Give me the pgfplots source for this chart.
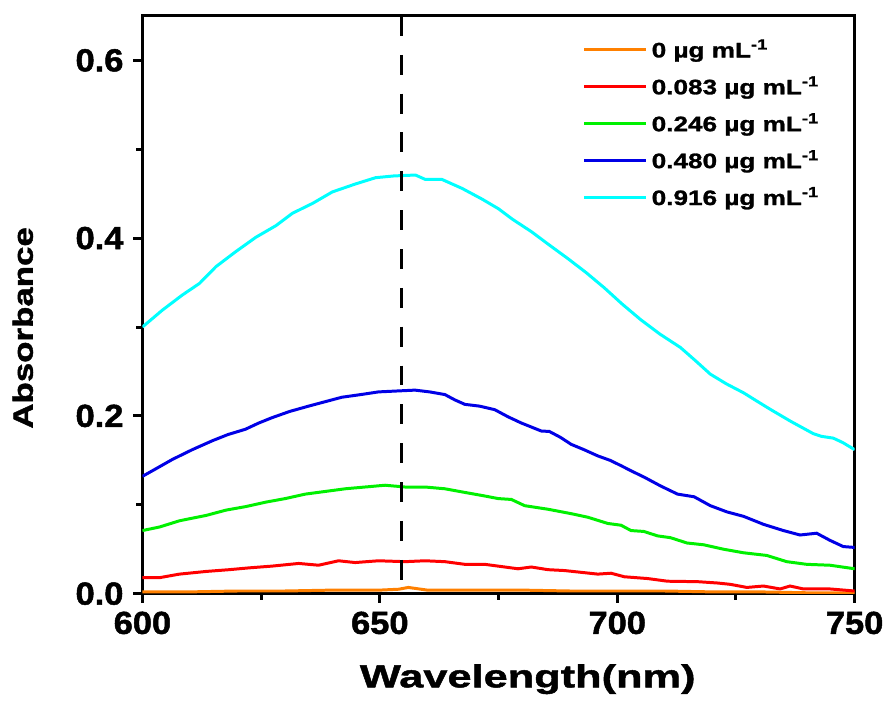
\documentclass[border=0pt]{standalone}
\usepackage{pgfplots}
\pgfplotsset{compat=1.18}
\usepackage{fontspec}
\setmainfont{Liberation Sans}
% heavy, widened faces for the different text roles
\newfontfamily\tickf{Liberation Sans}[BoldFeatures={FakeStretch=1.08,FakeBold=1.5}]
\newfontfamily\xlabf{Liberation Sans}[BoldFeatures={FakeStretch=1.36,FakeBold=1.5}]
\newfontfamily\ylabf{Liberation Sans}[BoldFeatures={FakeStretch=1.25,FakeBold=1.5}]
\newfontfamily\legf{Liberation Sans}[BoldFeatures={FakeStretch=1.25,FakeBold=1.3}]

\definecolor{cOrange}{RGB}{255,128,0}
\definecolor{cRed}{RGB}{255,0,0}
\definecolor{cGreen}{RGB}{0,240,0}
\definecolor{cBlue}{RGB}{0,0,230}
\definecolor{cCyan}{RGB}{0,255,255}

\begin{document}
\begin{tikzpicture}
\begin{axis}[
  scale only axis,
  width=357.5pt, height=290pt,
  xmin=600, xmax=750, ymin=0, ymax=0.65,
  xtick={600,650,700,750},
  ytick={0,0.2,0.4,0.6},
  minor xtick={625,675,725},
  minor ytick={0.1,0.3,0.5},
  xtick pos=bottom, ytick pos=left,
  tick align=outside,
  major tick length=4.5pt, minor tick length=3pt,
  every tick/.style={black, line width=1.5pt},
  axis line style={line width=1.5pt},
  /pgf/number format/assume math mode=true,
  yticklabel style={/pgf/number format/fixed, /pgf/number format/fixed zerofill,
    /pgf/number format/precision=1, xshift=-1.5pt},
  ticklabel style={font=\tickf\bfseries\fontsize{16}{16}\selectfont},
  xticklabel style={yshift=-1pt},
  xlabel={Wavelength(nm)}, ylabel={Absorbance},
  xlabel style={font=\xlabf\bfseries\fontsize{16}{16}\selectfont,
    at={(axis description cs:0.541,-0.148)}, anchor=center},
  ylabel style={font=\ylabf\bfseries\fontsize{14}{14}\selectfont,
    at={(axis description cs:-0.168,0.46)}, anchor=center},
  legend cell align=left,
  legend image code/.code={\draw[#1] (0pt,0pt) -- (31pt,0pt);},
  legend style={at={(axis description cs:0.618,0.967)}, anchor=north west, draw=none, fill=none,
    font=\legf\bfseries\fontsize{10.5}{10.5}\selectfont, row sep=4pt, inner sep=0pt},
  every axis plot/.append style={line width=1.5pt},
]
\addplot[cOrange] coordinates {
(600,0.002) (610,0.002) (620,0.003) (630,0.003) (640,0.004) (650,0.004) (654,0.005) (656,0.007)
(660,0.004) (670,0.004) (680,0.004) (690,0.003) (700,0.003) (710,0.003) (720,0.002) (730,0.002)
(740,0.001) (750,0.001)};
\addlegendentry{0 µg mL\textsuperscript{-1}}

\addplot[cRed] coordinates {
(600,0.018) (603.6,0.018) (607.8,0.022) (613.4,0.025) (618.3,0.027) (622.4,0.029) (627.3,0.031)
(632.9,0.034) (637.1,0.032) (641.3,0.037) (644.8,0.035) (649.7,0.037) (655.3,0.036) (659.5,0.037)
(663.7,0.036) (667.9,0.033) (672.1,0.033) (674.9,0.031) (679.1,0.028) (681.9,0.030) (685.4,0.027)
(688.9,0.026) (692.4,0.024) (695.9,0.022) (698.7,0.023) (701.5,0.019) (706.4,0.017) (710.6,0.014)
(716.9,0.0135) (721.1,0.012) (723.8,0.0105) (727.3,0.007) (730.8,0.0086) (734.3,0.0053)
(736.4,0.0086) (739.2,0.0053) (744.8,0.0053) (750,0.003)};
\addlegendentry{0.083 µg mL\textsuperscript{-1}}

\addplot[cGreen] coordinates {
(600,0.071) (603.6,0.075) (607.8,0.082) (613.4,0.088) (617.6,0.094) (621.8,0.098) (626,0.103)
(630.1,0.107) (634.3,0.112) (638.5,0.115) (642.7,0.118) (646.9,0.120) (651.1,0.122) (655.3,0.120)
(659.5,0.120) (663.7,0.118) (667.8,0.114) (672,0.110) (674.9,0.107) (677.7,0.106) (680.5,0.099)
(685.4,0.095) (690.3,0.090) (693.8,0.086) (698,0.079) (700.8,0.077) (702.9,0.071) (705.6,0.070)
(708.5,0.065) (711.2,0.063) (714.7,0.057) (718.2,0.055) (722.4,0.050) (726.6,0.046) (731.5,0.043)
(735.7,0.036) (739.9,0.033) (744.8,0.032) (750,0.028)};
\addlegendentry{0.246 µg mL\textsuperscript{-1}}

\addplot[cBlue] coordinates {
(600,0.132) (603,0.141) (606.3,0.151) (610.5,0.162) (614.7,0.172) (618,0.179) (621.7,0.185)
(624.5,0.192) (627.3,0.198) (631,0.205) (635,0.211) (638.5,0.216) (642,0.221) (646,0.224)
(649.7,0.227) (653.5,0.228) (657.4,0.229) (660.5,0.227) (663.7,0.224) (665.8,0.218) (667.9,0.213)
(671,0.211) (674.2,0.207) (677,0.199) (679.8,0.192) (684,0.183) (685.7,0.1825) (688,0.176)
(690.3,0.168) (693,0.162) (695.9,0.155) (698.5,0.150) (700.8,0.144) (703,0.138) (705.7,0.131)
(709.2,0.121) (712.7,0.112) (716.2,0.109) (719.6,0.099) (723.1,0.092) (726.6,0.087) (730.8,0.078)
(735,0.071) (738.5,0.066) (742,0.068) (744.8,0.060) (747.6,0.053) (750,0.052)};
\addlegendentry{0.480 µg mL\textsuperscript{-1}}

\addplot[cCyan] coordinates {
(600,0.300) (604.2,0.319) (608.4,0.336) (612,0.349) (615.5,0.368) (619.7,0.385) (623.9,0.401)
(628.1,0.414) (631.6,0.428) (635.8,0.439) (640,0.452) (644.9,0.461) (649.1,0.468) (653,0.470)
(657.5,0.471) (659.6,0.466) (663.1,0.466) (667.3,0.456) (671.5,0.444) (675,0.433) (678,0.421)
(682,0.407) (685.5,0.393) (689.6,0.377) (693.5,0.361) (697.3,0.344) (701,0.326) (705,0.308)
(709,0.292) (713.3,0.277) (716.5,0.262) (719.6,0.247) (723,0.236) (726.6,0.226) (729,0.218)
(732.2,0.2075) (736.5,0.194) (741.3,0.180) (743,0.177) (745.5,0.175) (747.5,0.170) (750,0.162)};
\addlegendentry{0.916 µg mL\textsuperscript{-1}}

% peak position marker
\addplot[black, line width=1.5pt, dash pattern=on 10pt off 9.5pt, forget plot]
  coordinates {(654.5,0.65) (654.5,0)};
\end{axis}
% page margins around the plot area
\path (current axis.south west) ++(-71.5pt,-55pt);
\path (current axis.north east) ++(16pt,8pt);
\end{tikzpicture}
\end{document}
